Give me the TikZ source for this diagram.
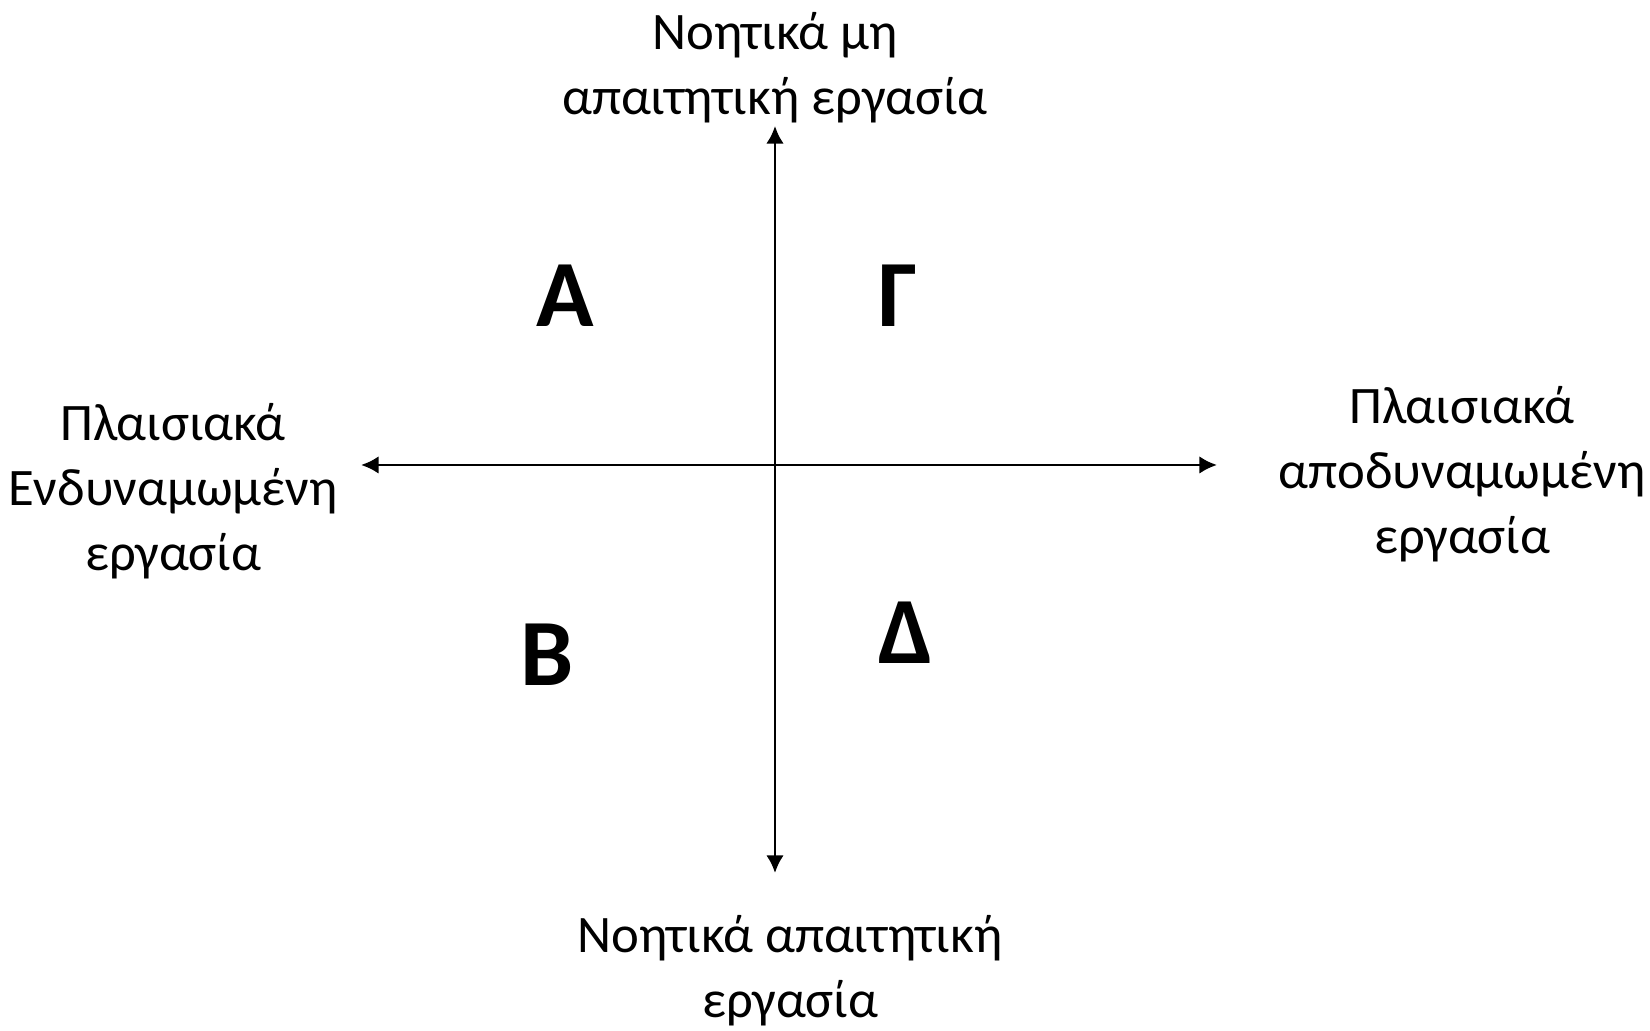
\documentclass[tikz,border=0pt]{standalone}
\usepackage{fontspec}
\setmainfont{Carlito}
\usetikzlibrary{arrows.meta,positioning}
\tikzset{
  axislabel/.style={align=center,inner sep=0pt,font=\fontsize{15}{18.5}\selectfont},
  quadrant/.style={inner sep=0pt,font=\fontsize{27}{30}\selectfont\bfseries},
  axisline/.style={line width=0.8pt,{Latex[length=5pt,width=5pt]}-{Latex[length=5pt,width=5pt]}}
}

\begin{document}
\begin{tikzpicture}
        \useasboundingbox (0,0) rectangle (16.5,10.31);
        % axes
        \coordinate (top) at (7.75,9.05);
        \coordinate (bottom) at (7.75,1.58);
        \coordinate (left) at (3.61,5.66);
        \coordinate (right) at (12.17,5.66);
        \draw[axisline] (bottom) -- (top);
        \draw[axisline] (left) -- (right);
        % axis labels
        \node[axislabel] (toplabel) at (7.75,9.63) {Νοητικά μη\\απαιτητική εργασία};
        \node[axislabel] (bottomlabel) at (7.90,0.60) {Νοητικά απαιτητική\\εργασία};
        \node[axislabel] (leftlabel) at (1.73,5.40) {Πλαισιακά\\Ενδυναμωμένη\\εργασία};
        \node[axislabel] (rightlabel) at (14.62,5.57) {Πλαισιακά\\αποδυναμωμένη\\εργασία};
        % quadrants
        \node[quadrant] (qA) at (5.65,7.35) {Α};
        \node[quadrant] (qG) at (8.98,7.35) {Γ};
        \node[quadrant] (qB) at (5.47,3.76) {Β};
        \node[quadrant] (qD) at (9.06,3.98) {Δ};
      \end{tikzpicture}
\end{document}
